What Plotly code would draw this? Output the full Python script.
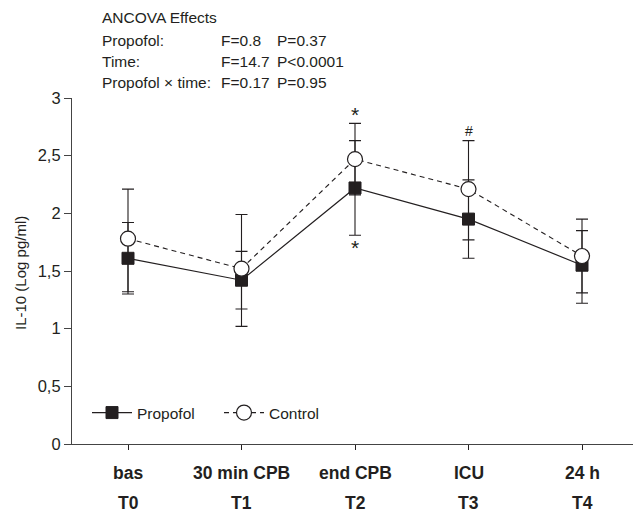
import plotly.graph_objects as go

# ---- data ----
time_codes = ["T0", "T1", "T2", "T3", "T4"]
time_names = ["bas", "30 min CPB", "end CPB", "ICU", "24 h"]
x_pos = [0, 1, 2, 3, 4]

propofol_mean = [1.61, 1.42, 2.22, 1.95, 1.55]
propofol_err_up = [0.31, 0.25, 0.41, 0.34, 0.30]
propofol_err_down = [0.31, 0.25, 0.41, 0.34, 0.33]

control_mean = [1.78, 1.52, 2.47, 2.21, 1.63]
control_err_up = [0.43, 0.47, 0.31, 0.42, 0.32]
control_err_down = [0.46, 0.50, 0.31, 0.44, 0.32]

y_ticks = [0, 0.5, 1, 1.5, 2, 2.5, 3]
y_ticktext = ["0", "0,5", "1", "1,5", "2", "2,5", "3"]

effects = ["Propofol:", "Time:", "Propofol \u00d7 time:"]
f_vals = ["F=0.8", "F=14.7", "F=0.17"]
p_vals = ["P=0.37", "P&lt;0.0001", "P=0.95"]

# significance marks: (x index, y value, symbol)
sig_x = [2, 2, 3]
sig_y = [2.86, 1.70, 2.71]
sig_txt = ["*", "*", "#"]

# ---- layout geometry ----
W, H = 633, 513
L, R, T, B = 72, 633, 98, 444
INK = "#231f20"
FONT = "Liberation Sans, Arial, sans-serif"


def px_x(p):
    return (p - L) / (R - L)


def px_y(p):
    return (B - p) / (B - T)


fig = go.Figure()

fig.add_trace(go.Scatter(
    x=x_pos, y=propofol_mean, name="Propofol", mode="lines+markers",
    line=dict(color=INK, width=1.2),
    marker=dict(symbol="square", size=12, color=INK, line=dict(color=INK, width=1)),
    error_y=dict(type="data", symmetric=False, array=propofol_err_up,
                 arrayminus=propofol_err_down, color=INK, thickness=1.1, width=6),
))

fig.add_trace(go.Scatter(
    x=x_pos, y=control_mean, name="Control", mode="lines+markers",
    line=dict(color=INK, width=1.1, dash="5px,4px"),
    marker=dict(symbol="circle", size=15, color="white", line=dict(color=INK, width=1.2)),
    error_y=dict(type="data", symmetric=False, array=control_err_up,
                 arrayminus=control_err_down, color=INK, thickness=1.1, width=6),
))

annotations = []
# ANCOVA block
annotations.append(dict(text="ANCOVA Effects", x=px_x(100), y=px_y(18), xref="paper", yref="paper",
                        xanchor="left", yanchor="middle", showarrow=False,
                        font=dict(size=15.5, color=INK, family=FONT)))
row_y = [40, 62, 83]
for i in range(len(effects)):
    for txt, xp in ((effects[i], 100), (f_vals[i], 219), (p_vals[i], 275)):
        annotations.append(dict(text=txt, x=px_x(xp), y=px_y(row_y[i]), xref="paper", yref="paper",
                                xanchor="left", yanchor="middle", showarrow=False,
                                font=dict(size=15.5, color=INK, family=FONT)))

# x category labels (two rows)
for xi, nm, code in zip(x_pos, time_names, time_codes):
    annotations.append(dict(text="<b>%s</b>" % nm, x=xi, y=px_y(473), xref="x", yref="paper",
                            xanchor="center", yanchor="middle", showarrow=False,
                            font=dict(size=17.5, color=INK, family=FONT)))
    annotations.append(dict(text="<b>%s</b>" % code, x=xi, y=px_y(503), xref="x", yref="paper",
                            xanchor="center", yanchor="middle", showarrow=False,
                            font=dict(size=17.5, color=INK, family=FONT)))

# significance marks
for xs, ys, st in zip(sig_x, sig_y, sig_txt):
    annotations.append(dict(text=st, x=xs, y=ys, xref="x", yref="y", showarrow=False,
                            xanchor="center", yanchor="middle",
                            font=dict(size=21 if st == "*" else 14, color=INK, family=FONT)))

# y axis title
annotations.append(dict(text="IL-10 (Log pg/ml)", x=px_x(20), y=px_y(273), xref="paper", yref="paper",
                        textangle=-90, showarrow=False, xanchor="center", yanchor="middle",
                        font=dict(size=15, color=INK, family=FONT)))

fig.update_layout(
    width=W, height=H,
    margin=dict(l=L, r=W - R, t=T, b=H - B, pad=0),
    paper_bgcolor="white", plot_bgcolor="white",
    font=dict(family=FONT, color=INK, size=15),
    showlegend=True,
    legend=dict(orientation="h", x=px_x(87), y=px_y(413), xanchor="left", yanchor="middle",
                bgcolor="rgba(0,0,0,0)", font=dict(size=15.5, color=INK, family=FONT),
                entrywidth=77, entrywidthmode="pixels", itemwidth=40),
    annotations=annotations,
    xaxis=dict(range=[-(128 - L) / 113.5, 4 + (R - 582) / 113.5], tickvals=x_pos,
               showticklabels=False, ticks="outside", ticklen=5, tickcolor=INK,
               showline=True, linecolor="#444", linewidth=1.2, showgrid=False, zeroline=False,
               fixedrange=True),
    yaxis=dict(range=[0, 3], tickvals=y_ticks, ticktext=y_ticktext, ticks="outside",
               ticklen=7, tickcolor="#444", showline=True, linecolor="#444", linewidth=1.2,
               showgrid=False, zeroline=False, tickfont=dict(size=16.5, color=INK, family=FONT),
               fixedrange=True),
)

fig.write_html(
    "out.html",
    config={"displayModeBar": False},
    post_script="document.body.style.margin='0px';document.body.style.overflow='hidden';",
)
